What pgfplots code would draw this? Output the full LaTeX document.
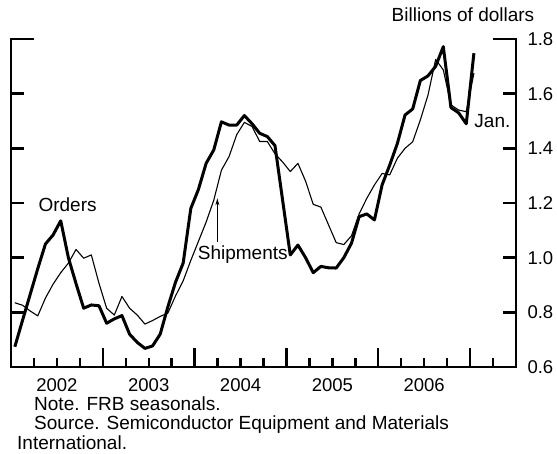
\documentclass[border=0pt]{standalone}
\usepackage{fontspec}
\setmainfont{Liberation Sans}
\usepackage{pgfplots}
\pgfplotsset{compat=1.18}
\usetikzlibrary{arrows.meta}
\begin{document}
\fontsize{19}{23}\selectfont
\begin{tikzpicture}
\useasboundingbox (-11pt,-87pt) rectangle (546pt,367pt);
\begin{axis}[
  at={(0pt,0pt)}, anchor=south west,
  width=505pt, height=328pt, scale only axis,
  xmin=0, xmax=66, ymin=0.6, ymax=1.8,
  axis line style={draw=none},
  tick align=inside,
  xtick pos=left,
  ytick pos=both, yticklabel pos=right,
  xtick={0,12,24,36,48,60},
  xticklabels={2002,2003,2004,2005,2006},
  x tick label as interval,
  minor xtick={3,6,9,15,18,21,27,30,33,39,42,45,51,54,57,63},
  extra x ticks={12,24,36,48,60},
  extra x tick labels={},
  extra x tick style={major tick length=19pt},
  ytick={0.6,0.8,1.0,1.2,1.4,1.6,1.8},
  /pgf/number format/assume math mode=true,
  yticklabel style={/pgf/number format/fixed,/pgf/number format/fixed zerofill,/pgf/number format/precision=1, xshift=5pt},
  xticklabel style={yshift=-5pt},
  tick label style={font=\fontsize{18.5}{22}\selectfont},
  major tick length=13pt, minor tick length=9pt,
  tick style={line width=2.4pt, black},
  clip=false,
]
% Orders (monthly, Jan 2002 - Jan 2007)
\addplot[black, line width=3pt, line join=round] coordinates {
(0.5,0.674) (1.5,0.770) (2.5,0.865) (3.5,0.960) (4.5,1.050) (5.5,1.083)
(6.5,1.135) (7.5,1.000) (8.5,0.905) (9.5,0.815) (10.5,0.827) (11.5,0.824)
(12.5,0.760) (13.5,0.776) (14.5,0.788) (15.5,0.720) (16.5,0.690) (17.5,0.668)
(18.5,0.677) (19.5,0.720) (20.5,0.820) (21.5,0.910) (22.5,0.980) (23.5,1.180)
(24.5,1.250) (25.5,1.345) (26.5,1.394) (27.5,1.497) (28.5,1.485) (29.5,1.485)
(30.5,1.520) (31.5,1.490) (32.5,1.455) (33.5,1.443) (34.5,1.410) (35.5,1.210)
(36.5,1.010) (37.5,1.046) (38.5,1.000) (39.5,0.945) (40.5,0.968) (41.5,0.963)
(42.5,0.962) (43.5,1.000) (44.5,1.053) (45.5,1.150) (46.5,1.160) (47.5,1.138)
(48.5,1.266) (49.5,1.339) (50.5,1.418) (51.5,1.522) (52.5,1.544) (53.5,1.648)
(54.5,1.665) (55.5,1.700) (56.5,1.772) (57.5,1.549) (58.5,1.530) (59.5,1.490)
(60.5,1.748)
};
% Shipments
\addplot[black, line width=1.1pt, line join=round] coordinates {
(0.5,0.835) (1.5,0.826) (2.5,0.805) (3.5,0.787) (4.5,0.852) (5.5,0.903)
(6.5,0.945) (7.5,0.980) (8.5,1.030) (9.5,0.998) (10.5,1.010) (11.5,0.906)
(12.5,0.815) (13.5,0.790) (14.5,0.858) (15.5,0.815) (16.5,0.790) (17.5,0.757)
(18.5,0.770) (19.5,0.785) (20.5,0.797) (21.5,0.860) (22.5,0.915) (23.5,0.990)
(24.5,1.060) (25.5,1.130) (26.5,1.210) (27.5,1.320) (28.5,1.370) (29.5,1.450)
(30.5,1.495) (31.5,1.480) (32.5,1.425) (33.5,1.425) (34.5,1.380) (35.5,1.350)
(36.5,1.315) (37.5,1.345) (38.5,1.280) (39.5,1.195) (40.5,1.185) (41.5,1.120)
(42.5,1.055) (43.5,1.048) (44.5,1.080) (45.5,1.160) (46.5,1.217) (47.5,1.266)
(48.5,1.308) (49.5,1.303) (50.5,1.364) (51.5,1.400) (52.5,1.424) (53.5,1.504)
(54.5,1.595) (55.5,1.725) (56.5,1.687) (57.5,1.559) (58.5,1.540) (59.5,1.534)
(60.5,1.675)
};
\draw[line width=2.6pt, line cap=butt, line join=miter]
  ([xshift=23pt]rel axis cs:0,1) -- (rel axis cs:0,1) -- (rel axis cs:0,0)
  -- (rel axis cs:1,0) -- (rel axis cs:1,1) -- ([xshift=-23pt]rel axis cs:1,1);
\node[anchor=base west, inner sep=0pt] at (axis cs:3.57,1.168) {Orders};
\node[anchor=base west, inner sep=0pt] at (axis cs:24.4,0.995) {Shipments};
\draw[-{Stealth[length=7pt,width=4pt]}, line width=0.8pt] (axis cs:26.97,1.058) -- (axis cs:26.97,1.217);
\node[anchor=base west, inner sep=0pt] at (axis cs:60.55,1.4745) {Jan.};
\end{axis}
\node[anchor=base, inner sep=0pt] at (452pt,345pt) {Billions of dollars};
\node[anchor=base west, inner sep=0pt] at (23pt,-44pt) {Note. FRB seasonals.};
\node[anchor=base west, inner sep=0pt] at (23pt,-63pt) {Source. Semiconductor Equipment and Materials};
\node[anchor=base west, inner sep=0pt] at (6pt,-83pt) {International.};
\end{tikzpicture}
\end{document}
